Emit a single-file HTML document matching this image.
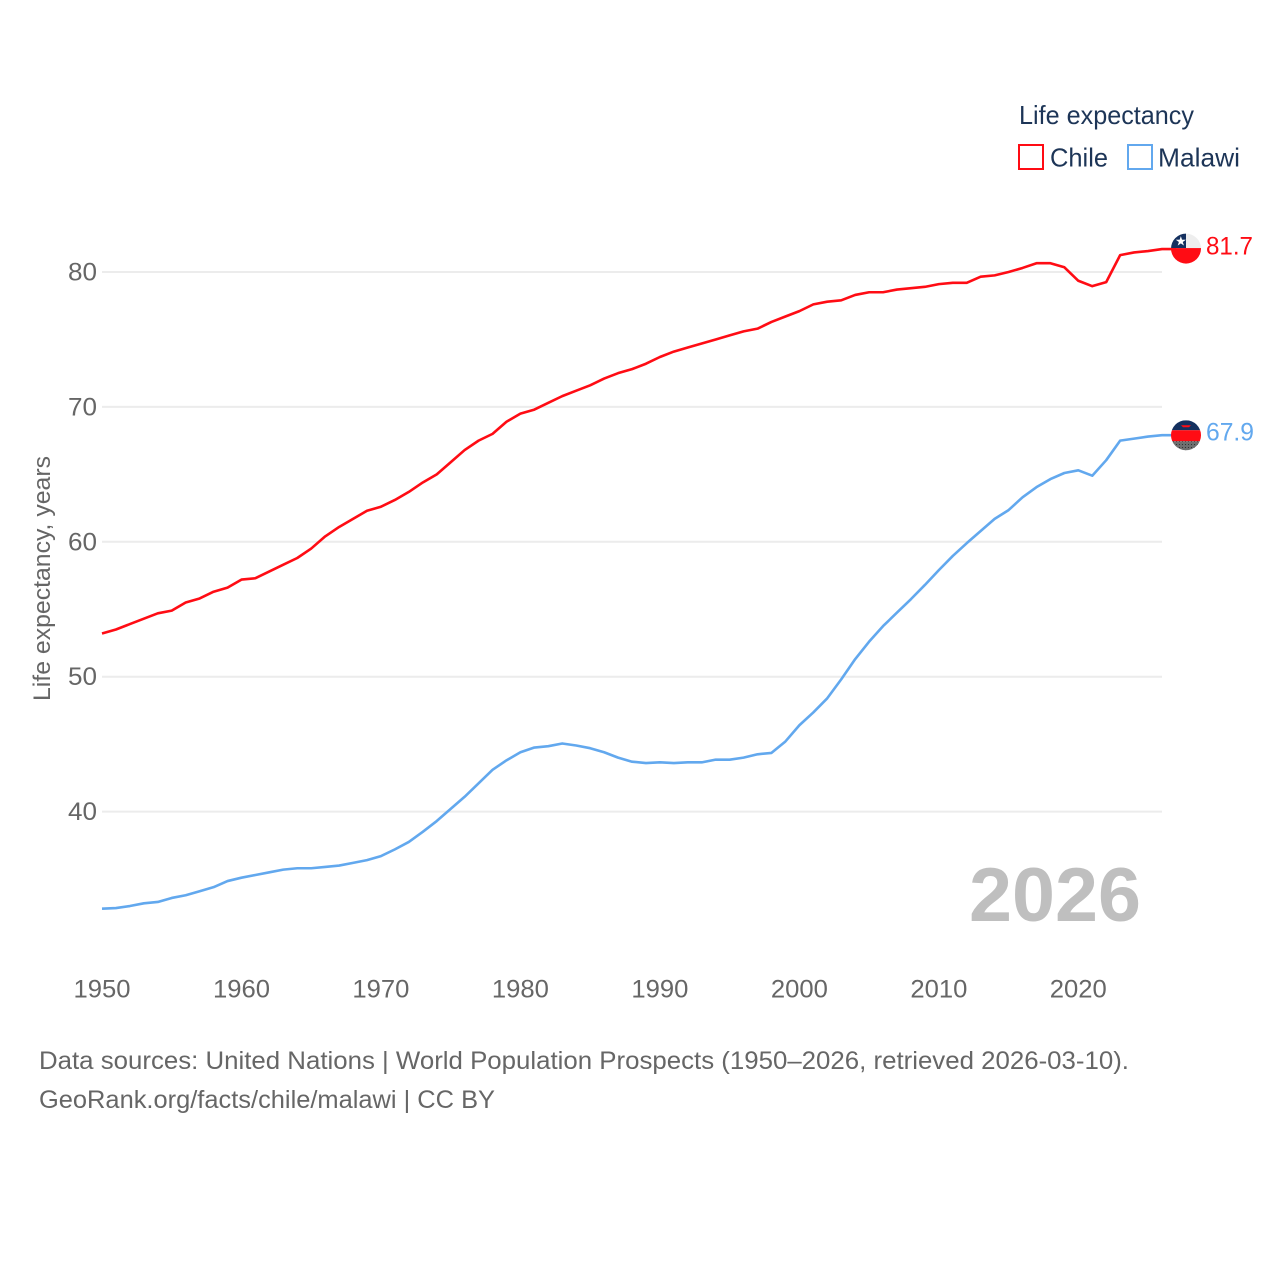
<!DOCTYPE html>
<html lang="en">
<head>
<meta charset="utf-8">
<title>Life expectancy: Chile and Malawi</title>
<style>
html,body{margin:0;padding:0;background:#fff;}
svg{display:block;font-family:"Liberation Sans",sans-serif;}
</style>
</head>
<body>
<svg id="chart" xmlns="http://www.w3.org/2000/svg" width="1280" height="1280" viewBox="0 0 1280 1280">
  <defs>
    <clipPath id="clip-chile"><circle id="clip-chile-circle" cx="1186" cy="248" r="15"/></clipPath>
    <clipPath id="clip-malawi"><circle id="clip-malawi-circle" cx="1186" cy="434" r="15"/></clipPath>
    <pattern id="malawi-dots" width="3" height="3" patternUnits="userSpaceOnUse"><rect width="3" height="3" fill="#6f6f6f"/><rect width="1" height="1" fill="#333333"/></pattern>
  </defs>
  <g id="grid"></g>
  <g id="ylabels"></g>
  <g id="xlabels"></g>
  <text transform="translate(50,701) rotate(-90)" font-size="24" fill="#666666" textLength="245" lengthAdjust="spacingAndGlyphs">Life expectancy, years</text>
  <text x="969" y="921" font-size="76" font-weight="700" fill="#bfbfbf" textLength="172" lengthAdjust="spacingAndGlyphs">2026</text>
  <g id="series"></g>
  <g id="flags"></g>
  <g>
    <text x="1019" y="124" font-size="26" fill="#1d3557" textLength="175" lengthAdjust="spacingAndGlyphs">Life expectancy</text>
    <rect x="1019" y="145" width="24" height="24" fill="none" stroke="#ff0c14" stroke-width="2"/>
    <text x="1050" y="166.5" font-size="26" fill="#1d3557" textLength="58" lengthAdjust="spacingAndGlyphs">Chile</text>
    <rect x="1128" y="145" width="24" height="24" fill="none" stroke="#62a8ee" stroke-width="2"/>
    <text x="1158" y="166.5" font-size="26" fill="#1d3557" textLength="82" lengthAdjust="spacingAndGlyphs">Malawi</text>
  </g>
  <text x="39" y="1069" font-size="25" fill="#666666" textLength="1090" lengthAdjust="spacingAndGlyphs">Data sources: United Nations | World Population Prospects (1950–2026, retrieved 2026-03-10).</text>
  <text x="39" y="1108" font-size="25" fill="#666666" textLength="456" lengthAdjust="spacingAndGlyphs">GeoRank.org/facts/chile/malawi | CC BY</text>
</svg>
<script>
var startYear = 1950;
var yTicks = [40, 50, 60, 70, 80];
var xTicks = [1950, 1960, 1970, 1980, 1990, 2000, 2010, 2020];
var chileValues = [53.2,53.5,53.9,54.3,54.7,54.9,55.5,55.8,56.3,56.6,57.2,57.3,57.8,58.3,58.8,59.5,60.4,61.1,61.7,62.3,62.6,63.1,63.7,64.4,65.0,65.9,66.8,67.5,68.0,68.9,69.5,69.8,70.3,70.8,71.2,71.6,72.1,72.5,72.8,73.2,73.7,74.1,74.4,74.7,75.0,75.3,75.6,75.8,76.3,76.7,77.1,77.6,77.8,77.9,78.3,78.5,78.5,78.7,78.8,78.9,79.1,79.2,79.2,79.65,79.75,80.0,80.3,80.65,80.65,80.35,79.35,78.95,79.25,81.25,81.45,81.55,81.7];
var malawiValues = [32.8,32.85,33.0,33.2,33.3,33.6,33.8,34.1,34.4,34.85,35.1,35.3,35.5,35.7,35.8,35.8,35.9,36.0,36.2,36.4,36.7,37.2,37.75,38.5,39.3,40.2,41.1,42.1,43.1,43.8,44.4,44.75,44.85,45.05,44.9,44.7,44.4,44.0,43.7,43.6,43.65,43.6,43.65,43.65,43.85,43.85,44.0,44.25,44.35,45.2,46.4,47.35,48.4,49.8,51.3,52.6,53.75,54.75,55.75,56.8,57.9,58.95,59.9,60.8,61.7,62.35,63.3,64.05,64.65,65.1,65.3,64.9,66.05,67.5,67.65,67.8,67.9];

var NS = 'http://www.w3.org/2000/svg';
function xScale(year) { return 102 + (year - 1950) * (1162 - 102) / 76; }
function yScale(value) { return 272 + (80 - value) * 13.49; }
function make(tag, attrs, parent) {
  var el = document.createElementNS(NS, tag);
  for (var k in attrs) { el.setAttribute(k, attrs[k]); }
  parent.appendChild(el);
  return el;
}
var gridG = document.getElementById('grid');
var yG = document.getElementById('ylabels');
var xG = document.getElementById('xlabels');
var seriesG = document.getElementById('series');
var flagsG = document.getElementById('flags');

yTicks.forEach(function (t) {
  var line = make('line', {x1: 102, x2: 1162, y1: yScale(t), y2: yScale(t), stroke: '#ececec', 'stroke-width': 2}, gridG);
  
  
  var label = make('text', {x: 68, y: yScale(t) + 8.5, 'font-size': 25, fill: '#666666', textLength: 29, lengthAdjust: 'spacingAndGlyphs'}, yG);
  label.textContent = String(t);
  
  
});
xTicks.forEach(function (t) {
  var label = make('text', {x: xScale(t) - 28.5, y: 997.5, 'font-size': 25, fill: '#666666', textLength: 57, lengthAdjust: 'spacingAndGlyphs'}, xG);
  label.textContent = String(t);
  
  
});

function linePath(values) {
  return values.map(function (v, i) {
    return (i ? 'L' : 'M') + xScale(startYear + i).toFixed(2) + ' ' + yScale(v).toFixed(2);
  }).join('');
}
function drawSeries(name, values, color, labelWidth) {
  var last = values[values.length - 1];
  var ly = yScale(last);
  var path = make('path', {d: linePath(values) + 'H1176', fill: 'none', stroke: color, 'stroke-width': 2.6, 'stroke-linejoin': 'round'}, seriesG);
  
  
  var label = make('text', {x: 1206, y: ly + 5.5, 'font-size': 25, fill: color, textLength: labelWidth, lengthAdjust: 'spacingAndGlyphs'}, flagsG);
  label.textContent = last.toFixed(1);
  
  
  return ly;
}
var chileY = drawSeries('chile', chileValues, '#ff0c14', 47);
var malawiY = drawSeries('malawi', malawiValues, '#62a8ee', 48);

function drawChileFlag(cy) {
  document.getElementById('clip-chile-circle').setAttribute('cy', cy - 0.5);
  var g = make('g', {'clip-path': 'url(#clip-chile)'}, flagsG);
  
  
  make('rect', {x: 1171, y: cy - 16, width: 30, height: 15, fill: '#eeeeee'}, g);
  make('rect', {x: 1171, y: cy - 16, width: 15, height: 15, fill: '#14305f'}, g);
  make('rect', {x: 1171, y: cy - 1, width: 30, height: 16, fill: '#ff0c14'}, g);
  var s = make('text', {x: 1175, y: cy - 3.5, 'font-size': 13, fill: '#ffffff'}, g);
  s.textContent = '★';
  
  
}
function drawMalawiFlag(cy) {
  document.getElementById('clip-malawi-circle').setAttribute('cy', cy);
  var g = make('g', {'clip-path': 'url(#clip-malawi)'}, flagsG);
  
  
  make('rect', {x: 1171, y: cy - 15, width: 30, height: 10, fill: '#14305f'}, g);
  make('rect', {x: 1171, y: cy - 5, width: 30, height: 11, fill: '#ff0c14'}, g);
  make('rect', {x: 1171, y: cy + 6, width: 30, height: 10, fill: 'url(#malawi-dots)'}, g);
  make('path', {d: 'M' + 1181 + ' ' + (cy - 10) + 'h10l-2 2h-6z', fill: '#ff0c14'}, g);
}
drawChileFlag(chileY);
drawMalawiFlag(malawiY);
</script>
</body>
</html>
